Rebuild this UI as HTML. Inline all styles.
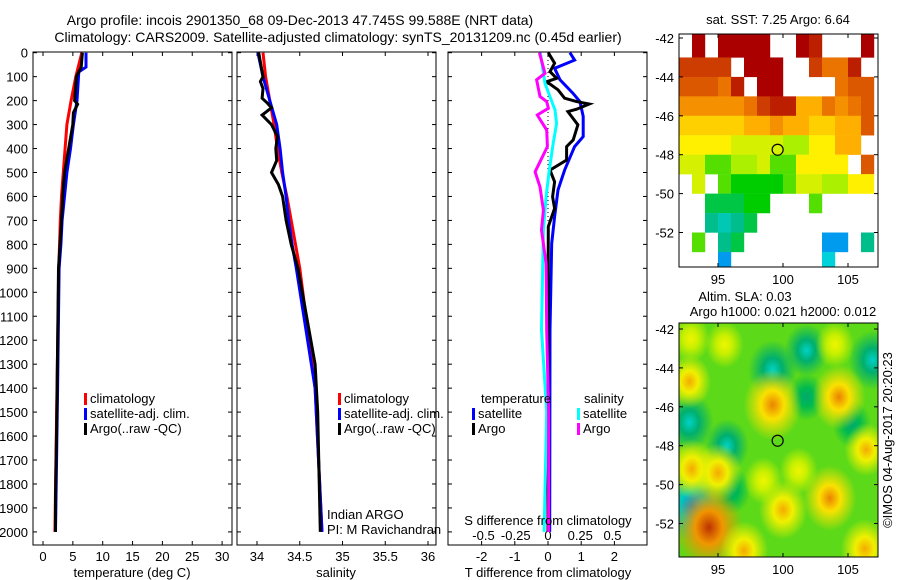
<!DOCTYPE html>
<html><head><meta charset="utf-8"><title>Argo profile</title>
<style>
html,body{margin:0;padding:0;background:#fff}
svg{display:block;font-family:"Liberation Sans",sans-serif;font-size:13px}
</style></head>
<body>
<svg id="fig" width="900" height="580" viewBox="0 0 900 580">
<text x="300" y="25" text-anchor="middle" font-size="14">Argo profile: incois 2901350_68 09-Dec-2013 47.745S 99.588E (NRT data)</text>
<text x="338" y="42" text-anchor="middle" font-size="14">Climatology: CARS2009. Satellite-adjusted climatology: synTS_20131209.nc (0.45d earlier)</text>
<g id="plots"></g>
</svg>
<script>
// ---------- profile data ----------
const tempClimDepth=[0,100,200,300,400,500,600,700,900,1400,2000];
const tempClim=[6.5,5.5,4.7,4.0,3.7,3.4,3.1,2.9,2.65,2.35,2.0];
const tempSatDepth=[0,60,80,200,300,400,500,600,700,800,900,1400,2000];
const tempSat=[7.2,7.2,6.0,5.7,5.1,4.6,4.0,3.6,3.2,3.0,2.7,2.45,2.1];
const tempArgoDepth=[0,60,100,200,215,250,300,400,500,600,700,900,1550,1850,2000];
const tempArgo=[6.6,6.4,5.6,5.3,5.8,5.1,5.0,4.3,3.6,3.3,3.1,2.6,2.3,2.1,2.1];

const salClimDepth=[0,100,200,300,400,500,600,700,800,900,1400,2000];
const salClim=[34.07,34.10,34.15,34.20,34.24,34.29,34.35,34.40,34.45,34.50,34.68,34.76];
const salSatDepth=[0,100,200,300,400,500,600,700,800,900,1400,2000];
const salSat=[34.01,34.07,34.15,34.23,34.27,34.30,34.34,34.37,34.41,34.46,34.68,34.76];
const salArgoDepth=[0,100,120,150,190,210,230,260,300,350,400,450,500,550,600,700,800,900,1300,1500,2000];
const salArgo=[34.02,34.07,34.04,34.07,34.06,34.12,34.17,34.06,34.17,34.24,34.22,34.23,34.17,34.25,34.30,34.34,34.40,34.48,34.68,34.71,34.74];

const dTSatDepth=[0,31,65,113,169,204,266,350,392,490,573,685,796,1157,2000];
const dTSat=[0.66,0.8,0.2,0.36,0.75,0.96,1.06,1.06,0.8,0.5,0.3,0.2,0.11,0.06,0.05];
const dTArgoDepth=[0,44,79,107,121,155,190,204,214,236,246,301,364,392,448,490,539,601,650,726,1157,2000];
const dTArgo=[0.01,0.2,0.06,0.26,-0.04,0.3,0.5,0.86,1.24,0.86,0.6,0.9,0.76,0.56,0.56,0.06,0.2,0.14,0.2,0.01,0.0,0.0];
const dSSatDepth=[0,128,183,239,295,378,490,601,740,1157,1500,2000];
const dSSat=[-0.06,-0.023,0.015,0.054,0.067,0.04,0.01,-0.015,-0.036,-0.05,-0.01,-0.03];
const dSArgoDepth=[0,86,113,183,204,232,260,323,392,497,560,657,740,880,1157,1500,2000];
const dSArgo=[-0.067,-0.023,-0.088,-0.062,-0.01,0.003,-0.083,-0.01,-0.005,-0.1,-0.062,-0.036,-0.05,-0.015,-0.01,0.005,0.005];

const depthTicks=[0,100,200,300,400,500,600,700,800,900,1000,1100,1200,1300,1400,1500,1600,1700,1800,1900,2000];
const tempTicks=[0,5,10,15,20,25,30];
const salTicks=[34,34.5,35,35.5,36];
const salTickLabels=["34","34.5","35","35.5","36"];
const dTTicks=[-2,-1,0,1,2];
const dSTicks=[-0.5,-0.25,0,0.25,0.5];

// ---------- SST map grid (lon 92..106, lat -42..-53), null = no data ----------
const sstLons=[92,93,94,95,96,97,98,99,100,101,102,103,104,105,106];
const sstLats=[-42,-43,-44,-45,-46,-47,-48,-49,-50,-51,-52,-53];
const n=null;
const sstGrid=[
[n,10,n,10,10,10,10,n,n,10,9.5,n,n,n,10],
[9,9,9,9,n,10,10,10,n,n,9,8,8,9.5,n],
[8.5,8.5,8.5,8,9.5,n,10,10,n,n,n,n,8,8.5,8.5],
[7.5,7.5,7.5,7.5,7.5,8,9,9.5,9.5,7,7,8,7.5,8,8.5],
[6.5,6.5,6.5,6.5,6.5,7,7,7.5,7,7,6.5,6.5,7,7,8.5],
[6,6,6,6,5.5,5.5,5.5,5.5,5,5,6,6,7,7,n],
[5.5,5.5,4.5,4.5,5,5,5.5,4.5,4.5,6,6,6,6,n,8.5],
[n,5.5,n,4.5,4,4,4,4,4.5,5.5,5.5,5,5,6,6],
[n,n,3.5,3.5,3.5,4,4,n,n,n,4.5,n,n,n,n],
[n,n,3,2.5,3,3.5,n,n,n,n,n,n,n,n,n],
[n,4.5,n,3,3.5,n,n,n,n,n,n,1,1,n,3],
[n,n,n,1,n,n,n,n,n,n,n,2,n,n,n]];

// ---------- SLA anomaly blobs ----------
const slaLon=[99.2,101.8,92.8,95.7,93.0,105.3,101.8,96.0,106.9,99.2,104.3,92.8,93.0,95.0,94.3,103.6,100.0,106.4,97.0,106.3,101.2,98.5,92.9,95.5,104.0];
const slaLat=[-44.1,-43.1,-46.8,-48.0,-51.1,-46.9,-45.5,-50.3,-43.6,-45.9,-45.5,-44.7,-49.2,-49.4,-52.2,-50.7,-51.3,-48.2,-53.4,-53.3,-49.3,-49.8,-42.5,-42.8,-42.8];
const slaVal=[-2,-1.5,-2,-1.5,-3,-1,-1,-1,-2,3,2.5,1.5,2,2,4,2.5,2,1.5,2,2,1,1,1,1,1];

const argoLon=99.588, argoLat=-47.745;

// ---------- helpers ----------
const NS="http://www.w3.org/2000/svg";
const root=document.getElementById('plots');
function mk(tag,attrs,parent){const e=document.createElementNS(NS,tag);for(const k in attrs)e.setAttribute(k,attrs[k]);(parent||root).appendChild(e);return e;}
function txt(x,y,s,anchor,parent,extra){const e=mk('text',Object.assign({x:x,y:y,'text-anchor':anchor||'start'},extra||{}),parent);e.textContent=s;return e;}

const Y0=52,Y1=545;
const yD=d=>52.7+d*0.2396;
const panels=[
 {x0:33,x1:232,name:'temperature-panel'},
 {x0:237,x1:436,name:'salinity-panel'},
 {x0:448,x1:647,name:'difference-panel'}];
const xT=t=>43+t*5.97;
const xS=s=>257+(s-34)*85.5;
const xDT=t=>548+t*33.2;
const xDS=s=>548+s*129;

panels.forEach(p=>{
  const g=mk('g',{});
  
  
  p.g=g;
  const r=mk('rect',{x:p.x0,y:Y0,width:p.x1-p.x0,height:Y1-Y0,fill:'none',stroke:'#000','stroke-width':1},g);
  
  
  depthTicks.forEach(d=>{
    mk('line',{x1:p.x0,x2:p.x0+4,y1:yD(d),y2:yD(d),stroke:'#000'},g);
    mk('line',{x1:p.x1,x2:p.x1-4,y1:yD(d),y2:yD(d),stroke:'#000'},g);
  });
});
const dl=mk('g',{});


depthTicks.forEach(d=>txt(28,yD(d)+5,String(d),'end',dl));

function xticks(p,ticks,fx,labels,yl){
  ticks.forEach((t,i)=>{
    const x=fx(t);
    mk('line',{x1:x,x2:x,y1:Y0,y2:Y0+4,stroke:'#000'},p.g);
    mk('line',{x1:x,x2:x,y1:Y1,y2:Y1-4,stroke:'#000'},p.g);
    if(labels) txt(x,yl||561,labels[i],'middle',p.g);
  });
}
xticks(panels[0],tempTicks,xT,tempTicks.map(String));
xticks(panels[1],salTicks,xS,salTickLabels);
xticks(panels[2],dTTicks,xDT,dTTicks.map(String));
dSTicks.forEach(s=>{txt(xDS(s),540,String(s),'middle',panels[2].g);});

const xl1=txt(132,577,'temperature (deg C)','middle');

const xl2=txt(336,577,'salinity','middle');

const xl3=txt(548,577,'T difference from climatology','middle');

const xl4=txt(548,525,'S difference from climatology','middle');


mk('line',{x1:xDT(0),x2:xDT(0),y1:Y0,y2:yD(2000),stroke:'#000','stroke-dasharray':'1,3'},panels[2].g);

function series(p,depths,vals,fx,color,name){
  const pts=depths.map((d,i)=>fx(vals[i]).toFixed(1)+','+yD(d).toFixed(1)).join(' ');
  const l=mk('polyline',{points:pts,fill:'none',stroke:color,'stroke-width':3,'stroke-linejoin':'miter'},p.g);
  
  
}
series(panels[0],tempClimDepth,tempClim,xT,'#ff0000','temp-climatology-line');
series(panels[0],tempSatDepth,tempSat,xT,'#0000ff','temp-satellite-line');
series(panels[0],tempArgoDepth,tempArgo,xT,'#000000','temp-argo-line');
series(panels[1],salClimDepth,salClim,xS,'#ff0000','sal-climatology-line');
series(panels[1],salSatDepth,salSat,xS,'#0000ff','sal-satellite-line');
series(panels[1],salArgoDepth,salArgo,xS,'#000000','sal-argo-line');
series(panels[2],dTSatDepth,dTSat,xDT,'#0000ff','dt-satellite-line');
series(panels[2],dTArgoDepth,dTArgo,xDT,'#000000','dt-argo-line');
series(panels[2],dSSatDepth,dSSat,xDS,'#00ffff','ds-satellite-line');
series(panels[2],dSArgoDepth,dSArgo,xDS,'#ff00ff','ds-argo-line');

function legend(x,y,items,name){
  const g=mk('g',{});
  
  
  items.forEach((it,i)=>{
    if(it[0]) mk('rect',{x:x,y:y+i*15-10,width:3,height:12,fill:it[0]},g);
    txt(x+6,y+i*15,it[1],'start',g);
  });
}
legend(84,403,[['#ff0000','climatology'],['#0000ff','satellite-adj. clim.'],['#000','Argo(..raw -QC)']],'temp-legend');
legend(338,403,[['#ff0000','climatology'],['#0000ff','satellite-adj. clim.'],['#000','Argo(..raw -QC)']],'sal-legend');
legend(472,418,[['#0000ff','satellite'],['#000','Argo']],'diff-temp-legend');
legend(577,418,[['#00ffff','satellite'],['#ff00ff','Argo']],'diff-sal-legend');
txt(481,403,'temperature');txt(584,403,'salinity');
const cr=mk('g',{});
txt(327,519,'Indian ARGO','start',cr);txt(327,534,'PI: M Ravichandran','start',cr);

// ---------- maps ----------
function mapAxes(x0,y0,x1,y1,lat0,name){
  const g=mk('g',{});
  
  
  const lx=lon=>x0+(lon-92)*13;
  const ly=lat=>lat0+(-42-lat)*19.45;
  const cid='clip-'+name;
  const cp=mk('clipPath',{id:cid},g);mk('rect',{x:x0,y:y0,width:x1-x0,height:y1-y0},cp);
  const inner=mk('g',{'clip-path':'url(#'+cid+')'},g);
  return {g,inner,lx,ly,x0,y0,x1,y1};
}
function mapFrame(m){
  mk('rect',{x:m.x0,y:m.y0,width:m.x1-m.x0,height:m.y1-m.y0,fill:'none',stroke:'#000'},m.g);
  [-42,-44,-46,-48,-50,-52].forEach(la=>{
    const y=m.ly(la);
    mk('line',{x1:m.x0,x2:m.x0+4,y1:y,y2:y,stroke:'#000'},m.g);
    mk('line',{x1:m.x1,x2:m.x1-4,y1:y,y2:y,stroke:'#000'},m.g);
    txt(m.x0-5,y+5,String(la),'end',m.g);
  });
  [95,100,105].forEach(lo=>{
    const x=m.lx(lo);
    mk('line',{x1:x,x2:x,y1:m.y0,y2:m.y0+4,stroke:'#000'},m.g);
    mk('line',{x1:x,x2:x,y1:m.y1,y2:m.y1-4,stroke:'#000'},m.g);
    txt(x,m.y1+17,String(lo),'middle',m.g);
  });
  const c=mk('circle',{cx:m.lx(argoLon),cy:m.ly(argoLat),r:5.5,fill:'none',stroke:'#000','stroke-width':1.2},m.g);
  
  
}
const stops=[[0,[0,100,255]],[2,[0,210,220]],[3,[0,190,140]],[4,[0,205,0]],[5,[170,240,0]],[6,[255,240,0]],[7,[255,175,0]],[8,[235,115,0]],[9,[205,60,0]],[10,[170,0,0]]];
function cmap(v){
  v=Math.max(0,Math.min(10,v));
  for(let i=1;i<stops.length;i++){if(v<=stops[i][0]){const a=stops[i-1],b=stops[i];const f=(v-a[0])/(b[0]-a[0]);
    return 'rgb('+a[1].map((c,k)=>Math.round(c+(b[1][k]-c)*f)).join(',')+')';}}
  return 'rgb(170,0,0)';
}
const m1=mapAxes(679,34,878,267,38,'sst-map');
sstGrid.forEach((row,r)=>row.forEach((v,c)=>{
  if(v===null) return;
  const x=m1.lx(sstLons[c]), y=m1.ly(sstLats[r]);
  const y0=r===0?m1.y0:y;
  const cell=mk('rect',{x:x,y:y0,width:13.2,height:m1.ly(sstLats[r]-1)-y0+0.2,fill:cmap(v)},m1.inner);
  
  
}));
mapFrame(m1);
txt(778,24,'sat. SST: 7.25 Argo: 6.64','middle',m1.g);

const m2=mapAxes(679,323,878,557,329,'sla-map');
mk('rect',{x:679,y:323,width:199,height:234,fill:'rgb(40,205,40)'},m2.inner);
const defs=mk('defs',{});
mk('rect',{x:679,y:323,width:199,height:234,fill:'rgb(170,235,0)',opacity:0.4},m2.inner);
function slaColor(v){
  if(v>=3.5) return ['rgb(190,50,0)','rgb(240,150,0)'];
  if(v>=2.5) return ['rgb(235,130,0)','rgb(250,225,0)'];
  if(v>=1.5) return ['rgb(245,170,0)','rgb(240,240,0)'];
  if(v>=0.5) return ['rgb(240,245,0)','rgb(200,240,0)'];
  if(v<=-2.5) return ['rgb(0,130,230)','rgb(0,200,190)'];
  if(v<=-1.5) return ['rgb(0,210,200)','rgb(0,175,110)'];
  return ['rgb(0,170,110)','rgb(0,185,80)'];
}
slaLon.forEach((lo,i)=>{
  const v=slaVal[i];const cols=slaColor(v);
  const gid='sg'+i;
  const rg=mk('radialGradient',{id:gid},defs);
  mk('stop',{offset:'0%','stop-color':cols[0]},rg);
  mk('stop',{offset:'40%','stop-color':cols[1]},rg);
  mk('stop',{offset:'100%','stop-color':cols[1],'stop-opacity':0},rg);
  const rr=13+Math.abs(v)*4.5;
  const e=mk('ellipse',{cx:m2.lx(lo),cy:m2.ly(slaLat[i]),rx:rr*1.1,ry:rr*1.35,fill:'url(#'+gid+')'},m2.inner);
  
  
});
mapFrame(m2);
txt(745,301,'Altim. SLA: 0.03','middle',m2.g);
txt(783,316,'Argo h1000: 0.021 h2000: 0.012','middle',m2.g);

const cp=txt(0,0,'\u00A9IMOS 04-Aug-2017 20:20:23','middle',null,{transform:'translate(892,440) rotate(-90)'});


</script>
</body></html>
